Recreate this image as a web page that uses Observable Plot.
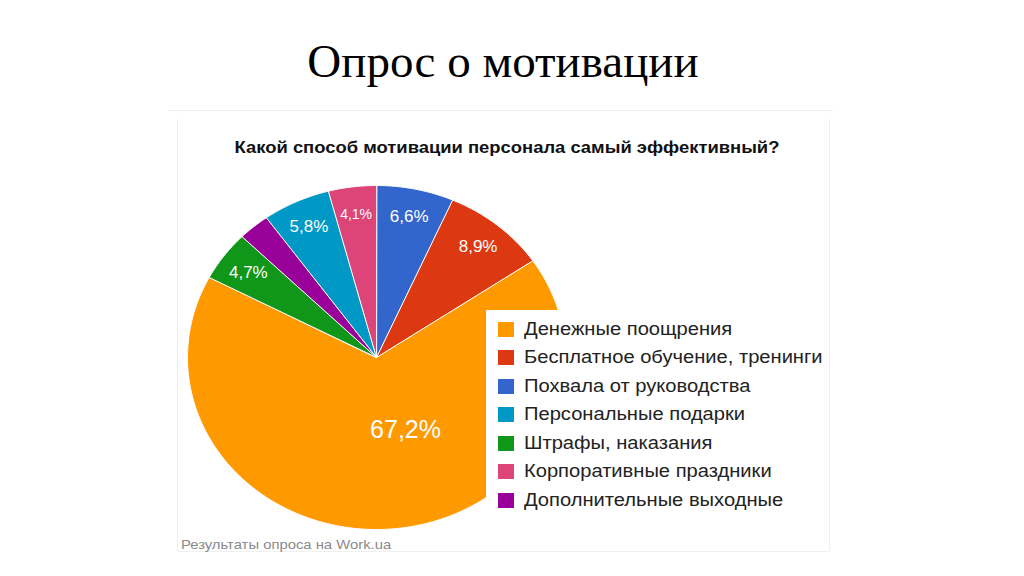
<!DOCTYPE html>
<html><head><meta charset="utf-8">
<script src="https://cdn.jsdelivr.net/npm/d3@7"></script>
<script src="https://cdn.jsdelivr.net/npm/@observablehq/plot@0.6"></script>
<style>
body{margin:0;background:#fff;width:1024px;height:576px;position:relative;overflow:hidden;font-family:"Liberation Sans",Arial,sans-serif}
#title{position:absolute;left:0;width:1006px;top:38px;text-align:center;font-family:"Liberation Serif","Times New Roman",serif;font-size:47px;line-height:1;color:#000}
#topline{position:absolute;left:168px;top:110px;width:665px;height:0;border-top:1px solid #efefef}
#panel{position:absolute;left:177px;top:119px;width:651px;height:432px;border:1px solid #f0f0f0;border-top:none}
#subtitle{position:absolute;left:0;width:1014px;top:139px;text-align:center;font-weight:bold;font-size:16.3px;line-height:1;color:#111;transform:scaleX(1.13);transform-origin:507px 0}
#chart{position:absolute;left:0;top:0}
#legend{position:absolute;left:486px;top:310px;width:343px;height:212px;background:#fff}
.row{position:absolute;left:0;height:28px;display:flex;align-items:center;white-space:nowrap}
.sw{width:16px;height:15px;margin-left:12px;margin-right:10px;flex:none}
.lt{display:inline-block;font-size:17.5px;color:#222;transform:scaleX(1.15);transform-origin:0 50%}
#caption{position:absolute;left:181px;top:538px;font-size:13px;line-height:1;color:#8a8a8a;transform:scaleX(1.14);transform-origin:0 0}
</style></head><body>
<div id="title">Опрос о мотивации</div>
<div id="topline"></div>
<div id="panel"></div>
<div id="chart"></div>
<div id="subtitle">Какой способ мотивации персонала самый эффективный?</div>
<div id="legend"></div>
<div id="caption">Результаты опроса на Work.ua</div>
<script>
// Legend order (descending)
const categories = [
  "Денежные поощрения",
  "Бесплатное обучение, тренинги",
  "Похвала от руководства",
  "Персональные подарки",
  "Штрафы, наказания",
  "Корпоративные праздники",
  "Дополнительные выходные"
];
const values = [67.2, 8.9, 6.6, 5.8, 4.7, 4.1, 2.7];
const colors = ["#FF9900", "#DC3912", "#3366CC", "#0099C6", "#109618", "#DD4477", "#990099"];
// Clockwise order of slices starting at 12 o'clock
const pieOrder = [
  "Похвала от руководства",
  "Бесплатное обучение, тренинги",
  "Денежные поощрения",
  "Штрафы, наказания",
  "Дополнительные выходные",
  "Персональные подарки",
  "Корпоративные праздники"
];

const data = pieOrder.map(k => ({key: k, value: values[categories.indexOf(k)]}));
const arcs = d3.pie().sort(null).value(d => d.value)(data);

const pts = [];
const labels = [];
for (const a of arcs) {
  const k = a.data.key;
  pts.push({key: k, x: 0, y: 0});
  const n = Math.max(2, Math.ceil((a.endAngle - a.startAngle) / 0.01));
  for (let i = 0; i <= n; i++) {
    const t = a.startAngle + (a.endAngle - a.startAngle) * i / n;
    pts.push({key: k, x: Math.sin(t), y: Math.cos(t)});
  }
  const v = a.data.value;
  if (v >= 3) {
    const m = (a.startAngle + a.endAngle) / 2;
    const r = v > 50 ? 0.42 : 0.84;
    labels.push({
      x: Math.sin(m) * r + (v > 50 ? 0.13 : 0),
      y: Math.cos(m) * r,
      text: v.toFixed(1).replace(".", ",") + "%",
      size: v > 50 ? 25 : (v < 4.5 ? 14 : 17)
    });
  }
}

const chart = Plot.plot({
  width: 1024,
  height: 576,
  margin: 0,
  x: {domain: [-1, 1], range: [187, 565], axis: null},
  y: {domain: [-1, 1], range: [529, 185], axis: null},
  color: {domain: categories, range: colors},
  style: {background: "transparent"},
  marks: [
    Plot.line(pts, {x: "x", y: "y", z: "key", fill: "key", stroke: "#fff", strokeWidth: 1, curve: "linear-closed"}),
    Plot.text(labels, {x: "x", y: "y", text: "text", fill: "#fff", fontSize: "size", fontFamily: "Liberation Sans, Arial, sans-serif", letterSpacing: 0.8})
  ]
});
document.getElementById("chart").appendChild(chart);

const legend = document.getElementById("legend");
categories.forEach((c, i) => {
  const row = document.createElement("div");
  row.className = "row";
  row.style.top = (5 + i * 28.5) + "px";
  const sw = document.createElement("div");
  sw.className = "sw";
  sw.style.background = colors[i];
  row.appendChild(sw);
  const t = document.createElement("span");
  t.className = "lt";
  t.textContent = c;
  row.appendChild(t);
  legend.appendChild(row);
});
</script>
</body></html>
